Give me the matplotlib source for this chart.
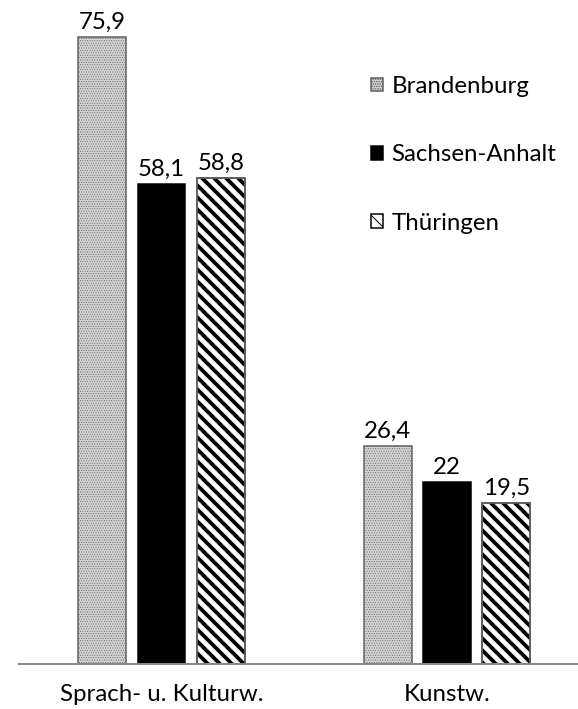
import matplotlib
matplotlib.use("Agg")
import matplotlib.pyplot as plt

# Daten
kategorien = ["Sprach- u. Kulturw.", "Kunstw."]
laender = ["Brandenburg", "Sachsen-Anhalt", "Thüringen"]
brandenburg = [75.9, 26.4]
sachsen_anhalt = [58.1, 22]
thueringen = [58.8, 19.5]

plt.rcParams['font.family'] = ['Lato', 'DejaVu Sans']

DPI = 72
fig = plt.figure(figsize=(578 / DPI, 709 / DPI), dpi=DPI)
ax = fig.add_axes([19 / 578, 45 / 709, 559 / 578, 661 / 709])

werte = [brandenburg, sachsen_anhalt, thueringen]
stile = [
    dict(color='#d4d4d4', edgecolor='#5e5e5e', hatch='.....'),
    dict(color='black', edgecolor='black'),
    dict(color='white', edgecolor='black', hatch='\\\\'),
]
breite = 0.168
abstand = 0.208
x = range(len(kategorien))

for i, (name, vals, stil) in enumerate(zip(laender, werte, stile)):
    pos = [xi + (i - 1) * abstand for xi in x]
    bars = ax.bar(pos, vals, breite, label=name, linewidth=1.5, **stil)
    if i == 0:
        for b in bars:
            if hasattr(b, 'set_hatch_linewidth'):
                b.set_hatch_linewidth(0.6)
    if i == 2:
        for b in bars:
            if hasattr(b, 'set_hatch_linewidth'):
                b.set_hatch_linewidth(3.8)
        # grauer Rahmen darüber
        ax.bar(pos, vals, breite, fill=False, edgecolor='#6e6e6e', linewidth=1.5)
    ax.bar_label(bars, labels=[f"{v:g}".replace('.', ',') for v in vals],
                 padding=4, fontsize=24)

ax.set_xlim(-0.4991, 1.4588)
ax.set_ylim(0, 80)
ax.set_xticks(list(x))
ax.set_xticklabels(kategorien, fontsize=24)
ax.tick_params(axis='x', length=0, pad=20)
ax.set_yticks([])
for s in ['top', 'right', 'left']:
    ax.spines[s].set_visible(False)
ax.spines['bottom'].set_color('#888888')
ax.spines['bottom'].set_linewidth(2)

handles, labels = ax.get_legend_handles_labels()
fig.legend(handles[:3], labels[:3], loc='upper left',
           bbox_to_anchor=(371 / 578, 1 - 76 / 709), frameon=False,
           fontsize=24, handlelength=0.5, handleheight=0.5,
           handletextpad=0.35, labelspacing=1.97, borderpad=0, borderaxespad=0)

fig.savefig('out.png', dpi=DPI)
